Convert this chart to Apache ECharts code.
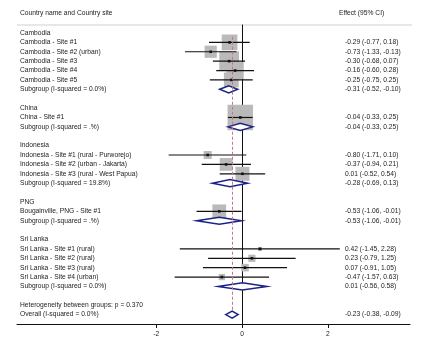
<!DOCTYPE html>
<html>
<head>
<meta charset="utf-8">
<script src="https://cdn.jsdelivr.net/npm/echarts@6/dist/echarts.min.js"></script>
<style>
  html, body { margin: 0; padding: 0; background: #fff; }
  #main { width: 433px; height: 350px; }
</style>
</head>
<body>
<div id="main"></div>
<script>
// one entry per row of the plot, top to bottom
const rowLabels = [
  'Cambodia', 'Cambodia - Site #1', 'Cambodia - Site #2 (urban)', 'Cambodia - Site #3',
  'Cambodia - Site #4', 'Cambodia - Site #5', 'Subgroup (I-squared = 0.0%)', '',
  'China', 'China - Site #1', 'Subgroup (I-squared = .%)', '',
  'Indonesia', 'Indonesia - Site #1 (rural - Purworejo)', 'Indonesia - Site #2 (urban - Jakarta)',
  'Indonesia - Site #3 (rural - West Papua)', 'Subgroup (I-squared = 19.8%)', '',
  'PNG', 'Bougainville, PNG - Site #1', 'Subgroup (I-squared = .%)', '',
  'Sri Lanka', 'Sri Lanka - Site #1 (rural)', 'Sri Lanka - Site #2 (rural)', 'Sri Lanka - Site #3 (rural)',
  'Sri Lanka - Site #4 (urban)', 'Subgroup (I-squared = 0.0%)', '',
  'Heterogeneity between groups: p = 0.370', 'Overall (I-squared = 0.0%)'
]
// 'g' group header, 's' study, 'd' subgroup / overall diamond, '' blank or text only
const rowKind = [
  'g', 's', 's', 's', 's', 's', 'd', '',
  'g', 's', 'd', '',
  'g', 's', 's', 's', 'd', '',
  'g', 's', 'd', '',
  'g', 's', 's', 's', 's', 'd', '',
  '', 'd'
]
const effect = [
  null, -0.29, -0.73, -0.30, -0.16, -0.25, -0.31, null,
  null, -0.04, -0.04, null,
  null, -0.80, -0.37, 0.01, -0.28, null,
  null, -0.53, -0.53, null,
  null, 0.42, 0.23, 0.07, -0.47, 0.01, null,
  null, -0.23
]
const ciLow = [
  null, -0.77, -1.33, -0.68, -0.60, -0.75, -0.52, null,
  null, -0.33, -0.33, null,
  null, -1.71, -0.94, -0.52, -0.69, null,
  null, -1.06, -1.06, null,
  null, -1.45, -0.79, -0.91, -1.57, -0.56, null,
  null, -0.38
]
const ciHigh = [
  null, 0.18, -0.13, 0.07, 0.28, 0.25, -0.10, null,
  null, 0.25, 0.25, null,
  null, 0.10, 0.21, 0.54, 0.13, null,
  null, -0.01, -0.01, null,
  null, 2.28, 1.25, 1.05, 0.63, 0.58, null,
  null, -0.09
]
// study weights (%)
const weight = [
  0, 9.5, 5.7, 14.9, 11.3, 8.4, 0, 0,
  0, 24.9, 0, 0,
  0, 2.5, 6.3, 7.5, 0, 0,
  0, 7.3, 0, 0,
  0, 0.6, 2.0, 2.2, 1.5, 0, 0,
  0, 0
]
const overallEffect = -0.23
const tickValues = [-2, 0, 2]

const font = 'Liberation Sans, Arial, sans-serif'
const fs = 6.7
const rows = rowLabels.map((_, i) => [i])

const fmt = v => v.toFixed(2)

const myChart = echarts.init(document.getElementById('main'))
const option = {
  animation: false,
  backgroundColor: '#fff',
  textStyle: { fontFamily: font },
  graphic: [
    { type: 'text', left: 20, top: 10, style: { text: 'Country name and Country site', fill: '#222', font: fs + 'px ' + font } },
    { type: 'text', left: 339, top: 10, style: { text: 'Effect (95% CI)', fill: '#222', font: fs + 'px ' + font } },
    { type: 'line', shape: { x1: 17, y1: 25, x2: 412, y2: 25 }, style: { stroke: '#cfcfcf', lineWidth: 1 } }
  ],
  grid: { left: 17, right: 23, top: 25, bottom: 26 },
  xAxis: {
    type: 'value',
    min: -5.245,
    max: 3.916,
    splitLine: { show: false },
    axisLine: { onZero: false, lineStyle: { color: '#111', width: 1 } },
    axisTick: { customValues: tickValues, length: 4, lineStyle: { color: '#111' } },
    axisLabel: { customValues: tickValues, margin: 7, fontSize: fs, color: '#222', fontFamily: font }
  },
  yAxis: {
    type: 'value',
    inverse: true,
    min: -0.85,
    max: 31,
    splitLine: { show: false },
    axisTick: { show: false },
    axisLabel: { show: false },
    axisLine: { show: true, onZero: true, lineStyle: { color: '#111', width: 1 } }
  },
  series: [
    {
      // weight boxes
      type: 'custom',
      z: 1,
      silent: true,
      data: rows,
      renderItem: function (params, api) {
        const i = api.value(0)
        if (rowKind[i] !== 's') return
        const c = api.coord([effect[i], i])
        const s = 5.1 * Math.sqrt(weight[i])
        return { type: 'rect', shape: { x: c[0] - s / 2, y: c[1] - s / 2, width: s, height: s }, style: { fill: '#bababa' } }
      },
      markLine: {
        silent: true,
        symbol: 'none',
        label: { show: false },
        lineStyle: { color: '#c77483', type: [3, 2], width: 1 },
        data: [[{ coord: [overallEffect, 0.4] }, { coord: [overallEffect, 29.6] }]]
      }
    },
    {
      // confidence intervals, point estimates, diamonds
      type: 'custom',
      z: 3,
      silent: true,
      data: rows,
      renderItem: function (params, api) {
        const i = api.value(0)
        const kind = rowKind[i]
        if (kind === 's') {
          const a = api.coord([ciLow[i], i])
          const b = api.coord([ciHigh[i], i])
          const c = api.coord([effect[i], i])
          return {
            type: 'group',
            children: [
              { type: 'line', shape: { x1: a[0], y1: a[1], x2: b[0], y2: b[1] }, style: { stroke: '#111', lineWidth: 1.2 } },
              { type: 'rect', shape: { x: c[0] - 1.3, y: c[1] - 1.3, width: 2.6, height: 2.6 }, style: { fill: '#111' } }
            ]
          }
        }
        if (kind === 'd') {
          const a = api.coord([ciLow[i], i])
          const b = api.coord([ciHigh[i], i])
          const c = api.coord([effect[i], i])
          const h = 3.6
          return {
            type: 'polygon',
            shape: { points: [[a[0], a[1]], [c[0], c[1] - h], [b[0], b[1]], [c[0], c[1] + h]] },
            style: { fill: '#fff', stroke: '#1c2384', lineWidth: 1.5 }
          }
        }
      }
    },
    {
      // row texts
      type: 'custom',
      z: 4,
      silent: true,
      data: rows,
      renderItem: function (params, api) {
        const i = api.value(0)
        const y = api.coord([0, i])[1]
        const children = []
        if (rowLabels[i]) {
          children.push({
            type: 'text',
            style: { text: rowLabels[i], x: 20, y: y, fill: '#222', font: fs + 'px ' + font, textAlign: 'left', textVerticalAlign: 'middle' }
          })
        }
        if (effect[i] !== null) {
          const x = api.coord([2.40, i])[0]
          children.push({
            type: 'text',
            style: { text: fmt(effect[i]) + ' (' + fmt(ciLow[i]) + ', ' + fmt(ciHigh[i]) + ')', x: x, y: y, fill: '#222', font: fs + 'px ' + font, textAlign: 'left', textVerticalAlign: 'middle' }
          })
        }
        return { type: 'group', children: children }
      }
    }
  ]
}
myChart.setOption(option)
</script>
</body>
</html>
